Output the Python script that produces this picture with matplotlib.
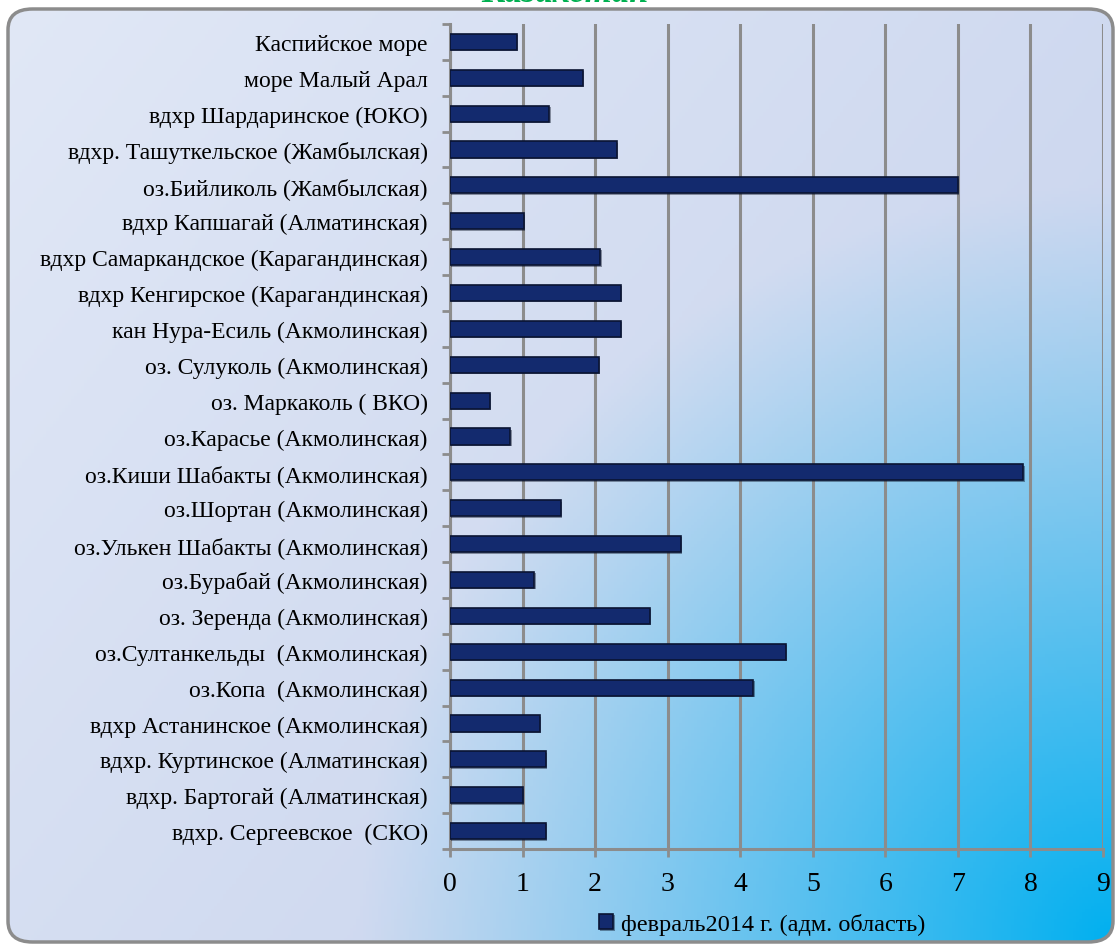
import numpy as np
import matplotlib.pyplot as plt
from matplotlib.patches import FancyBboxPatch
import matplotlib.patheffects as pe

plt.rcParams['font.family'] = ['Liberation Serif', 'DejaVu Serif']

# Data (top to bottom as in the picture)
lakes = [
    'Каспийское море',
    'море Малый Арал',
    'вдхр Шардаринское (ЮКО)',
    'вдхр. Ташуткельское (Жамбылская)',
    'оз.Бийликоль (Жамбылская)',
    'вдхр Капшагай (Алматинская)',
    'вдхр Самаркандское (Карагандинская)',
    'вдхр Кенгирское (Карагандинская)',
    'кан Нура-Есиль (Акмолинская)',
    'оз. Сулуколь (Акмолинская)',
    'оз. Маркаколь ( ВКО)',
    'оз.Карасье (Акмолинская)',
    'оз.Киши Шабакты (Акмолинская)',
    'оз.Шортан (Акмолинская)',
    'оз.Улькен Шабакты (Акмолинская)',
    'оз.Бурабай (Акмолинская)',
    'оз. Зеренда (Акмолинская)',
    'оз.Султанкельды  (Акмолинская)',
    'оз.Копа  (Акмолинская)',
    'вдхр Астанинское (Акмолинская)',
    'вдхр. Куртинское (Алматинская)',
    'вдхр. Бартогай (Алматинская)',
    'вдхр. Сергеевское  (СКО)',
]
values = [0.92, 1.83, 1.37, 2.30, 7.00, 1.02, 2.07, 2.35, 2.35, 2.05, 0.55, 0.83,
          7.90, 1.53, 3.18, 1.16, 2.75, 4.63, 4.18, 1.24, 1.32, 1.00, 1.32]
series_name = 'февраль2014 г. (адм. область)'
x_ticks = list(range(10))

W, H = 1116, 945
fig = plt.figure(figsize=(W / 100, H / 100), dpi=100)

# gradient background inside a rounded box: lavender, radial cyan from bottom-right
bg = fig.add_axes([0, 0, 1, 1], zorder=0)
bg.set_xlim(0, 1)
bg.set_ylim(0, 1)
bg.axis('off')
py, px = np.mgrid[0:H:300j, 0:W:360j]
dist = np.sqrt((W - px) ** 2 + (H - py) ** 2) / 760
t = np.clip(1 - dist, 0, 1) ** 1.1
lin = np.clip(px / W * 0.6 + py / H * 0.4, 0, 1)
light = np.array([225, 232, 246]) / 255
mid = np.array([196, 208, 236]) / 255
cyan = np.array([0, 176, 240]) / 255
base = light * (1 - lin[..., None]) + mid * lin[..., None]
img = base * (1 - t[..., None]) + cyan * t[..., None]
im = bg.imshow(img, extent=[0, 1, 0, 1], origin='upper', aspect='auto')
box = FancyBboxPatch((8 / W, 2 / H), (1113 - 8) / W, (943 - 10) / H,
                     boxstyle='round,pad=0,rounding_size=0.022',
                     transform=bg.transAxes, facecolor='none', edgecolor='#8c8c8c', linewidth=2.5)
bg.add_patch(box)
im.set_clip_path(box)

# title is mostly cut off at the top edge in the original
fig.text(565 / W, 1 + 6 / H, 'Казахстан', color='#00b050', fontsize=25, fontweight='bold',
         fontstyle='italic', ha='center', va='center')

ax = fig.add_axes([450 / W, 1 - 850 / H, (1103 - 450) / W, (850 - 25) / H], zorder=1)
ax.patch.set_alpha(0)
y = np.arange(len(lakes))
ax.barh(y, values, height=0.45, color='#132a6e', edgecolor='#0a1433', linewidth=1.2, zorder=3,
        label=series_name,
        path_effects=[pe.SimplePatchShadow(offset=(1, -1), alpha=0.4), pe.Normal()])
ax.set_ylim(len(lakes) - 0.5, -0.5)
ax.set_xlim(0, 9)
ax.set_xticks(x_ticks)
ax.set_yticks(y)
ax.set_yticklabels(lakes, fontsize=17)
ax.set_yticks(np.arange(len(lakes) + 1) - 0.5, minor=True)
ax.tick_params(axis='y', which='major', length=0, pad=16)
ax.tick_params(axis='y', which='minor', length=6, width=2, color='#8c8c8c')
ax.tick_params(axis='x', labelsize=20, length=6, width=2, color='#8c8c8c', pad=10)
ax.grid(axis='x', color='#8c8c8c', linewidth=2.2, zorder=1)
ax.set_axisbelow(True)
for s in ['top', 'right']:
    ax.spines[s].set_visible(False)
for s in ['left', 'bottom']:
    ax.spines[s].set_color('#8c8c8c')
    ax.spines[s].set_linewidth(2.2)

leg = fig.legend(loc='center', bbox_to_anchor=(762 / W, 1 - 925 / H), frameon=False,
                 fontsize=17.5, handlelength=0.6, handleheight=0.6, handletextpad=0.3)

fig.savefig('out.png', dpi=100)
